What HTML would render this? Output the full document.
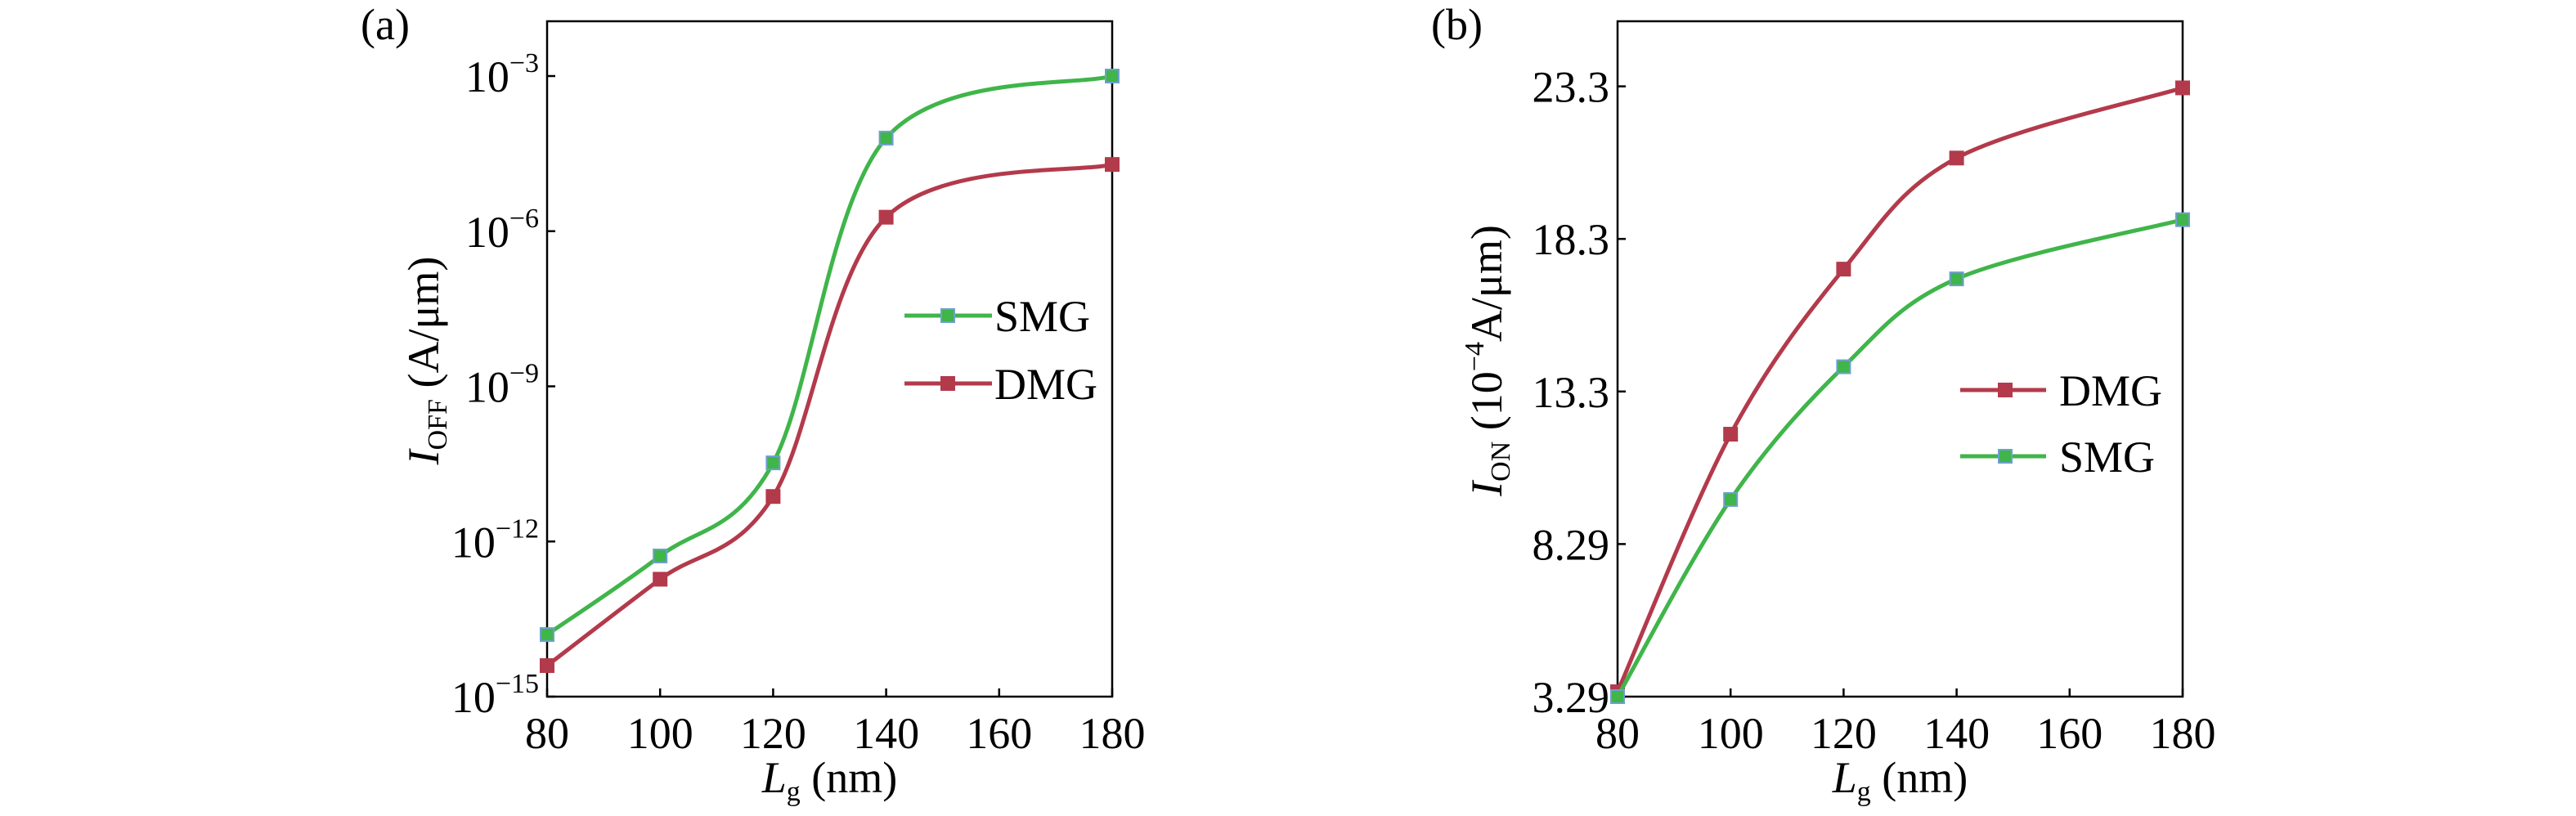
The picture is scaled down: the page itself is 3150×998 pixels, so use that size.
<!DOCTYPE html>
<html><head><meta charset="utf-8"><style>
body{margin:0;background:#fff}
svg{display:block;font-family:"Liberation Serif",serif}
</style></head><body>
<svg id="c" width="3150" height="998" xmlns="http://www.w3.org/2000/svg"></svg>
<script>
const xCats=[80,100,120,140,180];
const xTicks=[80,100,120,140,160,180];
const aSMG=[-13.8,-12.28,-10.48,-4.2,-3.0];
const aDMG=[-14.4,-12.73,-11.13,-5.73,-4.71];
const aTicks=[-15,-12,-9,-6,-3];
const bDMG=[3.45,11.89,17.3,20.94,23.24];
const bSMG=[3.29,9.75,14.1,16.98,18.92];
const bTicks=["3.29","8.29","13.3","18.3","23.3"];
const bTickVals=[3.29,8.29,13.29,18.29,23.29];

const NS="http://www.w3.org/2000/svg";
const svg=document.getElementById('c');
function el(tag,attrs,parent){const e=document.createElementNS(NS,tag);for(const k in attrs)e.setAttribute(k,attrs[k]);(parent||svg).appendChild(e);return e;}
const GREEN="#3fb54a",RED="#b33a4b";
const FS=54,SS=34;

function catmull(pts){let d=`M${pts[0][0]},${pts[0][1]}`;for(let i=0;i<pts.length-1;i++){const p0=pts[i-1]||pts[i],p1=pts[i],p2=pts[i+1],p3=pts[i+2]||p2;const t=6;d+=` C${p1[0]+(p2[0]-p0[0])/t},${p1[1]+(p2[1]-p0[1])/t} ${p2[0]-(p3[0]-p1[0])/t},${p2[1]-(p3[1]-p1[1])/t} ${p2[0]},${p2[1]}`;}return d;}

function panel(o){
  const g=el('g',{});
  
  
  const X=v=>o.L+(v-80)/100*(o.R-o.L);
  const r=el('rect',{x:o.L,y:o.T,width:o.R-o.L,height:o.B-o.T,fill:'none',stroke:'#000','stroke-width':2.5},g);
  
  xTicks.forEach(v=>{const x=X(v);
    const t=el('line',{x1:x,x2:x,y1:o.B,y2:o.B-10,stroke:'#000','stroke-width':2.5},g);
    
    const tx=el('text',{x:x,y:915,'font-size':FS,'text-anchor':'middle'},g);tx.textContent=v;
    });
  o.yt.forEach((v,i)=>{const y=o.Y(v);
    const t=el('line',{x1:o.L,x2:o.L+10,y1:y,y2:y,stroke:'#000','stroke-width':2.5},g);
    
    const tx=el('text',{x:o.L-10,y:y+19,'font-size':FS,'text-anchor':'end'},g);
    if(o.log){tx.innerHTML='10<tspan font-size="'+SS+'" dy="-24">\u2212'+(-v)+'</tspan>';}else tx.textContent=o.ytl[i];
    });
  o.series.forEach(s=>{
    const pts=s.v.map((v,i)=>[X(xCats[i]),o.Y(v)]);
    const p=el('path',{d:catmull(pts),fill:'none',stroke:s.c,'stroke-width':5},g);
    
    pts.forEach(q=>{const m=el('rect',{x:q[0]-8,y:q[1]-8,width:16,height:16,fill:s.c,stroke:s.mb,'stroke-width':2},g);
      });
  });
  o.leg.forEach(l=>{
    const lg=el('g',{},g);
    el('line',{x1:l.x1,x2:l.x2,y1:l.y,y2:l.y,stroke:l.c,'stroke-width':5},lg);
    el('rect',{x:l.m-8,y:l.y-8,width:16,height:16,fill:l.c,stroke:l.mb,'stroke-width':2},lg);
    const t=el('text',{x:l.tx,y:l.y+19,'font-size':FS},lg);t.textContent=l.n;
  });
  const xt=el('text',{x:(o.L+o.R)/2,y:969,'font-size':FS,'text-anchor':'middle'},g);
  xt.innerHTML='<tspan font-style="italic">L</tspan><tspan font-size="'+SS+'" dy="10">g</tspan><tspan dy="-10"> (nm)</tspan>';
  
  const yt=el('text',{x:0,y:0,'font-size':FS,'text-anchor':'middle',transform:`translate(${o.ytx},441) rotate(-90)`},g);
  yt.innerHTML=o.ytitle;
  
  const pl=el('text',{x:o.lbx,y:48,'font-size':FS},g);pl.textContent=o.lab;
  
}
const BLUE="#6f9fd0";
panel({name:'panel-a-ioff',L:669,R:1360,T:26,B:852,log:true,yt:aTicks,
  Y:v=>852-(v+15)/12*(852-93),
  series:[{n:'smg',v:aSMG,c:GREEN,mb:BLUE},{n:'dmg',v:aDMG,c:RED,mb:RED}],
  leg:[{n:'SMG',x1:1106,x2:1213,m:1159,y:386,tx:1216,c:GREEN,mb:BLUE},{n:'DMG',x1:1106,x2:1213,m:1159,y:469,tx:1216,c:RED,mb:RED}],
  ytx:536,ytitle:'<tspan font-style="italic">I</tspan><tspan font-size="'+SS+'" dy="10">OFF</tspan><tspan dy="-10"> (A/μm)</tspan>',lbx:441,lab:'(a)'});
panel({name:'panel-b-ion',L:1978,R:2669,T:26,B:852,log:false,yt:bTickVals,ytl:bTicks,
  Y:v=>852-(v-3.29)/20*(852-105.6),
  series:[{n:'dmg',v:bDMG,c:RED,mb:RED},{n:'smg',v:bSMG,c:GREEN,mb:BLUE}],
  leg:[{n:'DMG',x1:2397,x2:2502,m:2452,y:477,tx:2518,c:RED,mb:RED},{n:'SMG',x1:2397,x2:2502,m:2452,y:558,tx:2518,c:GREEN,mb:BLUE}],
  ytx:1836,ytitle:'<tspan font-style="italic">I</tspan><tspan font-size="'+SS+'" dy="10">ON</tspan><tspan dy="-10"> (10</tspan><tspan font-size="'+SS+'" dy="-22">\u22124</tspan><tspan dy="22">A/μm)</tspan>',lbx:1750,lab:'(b)'});
</script>
</body></html>
